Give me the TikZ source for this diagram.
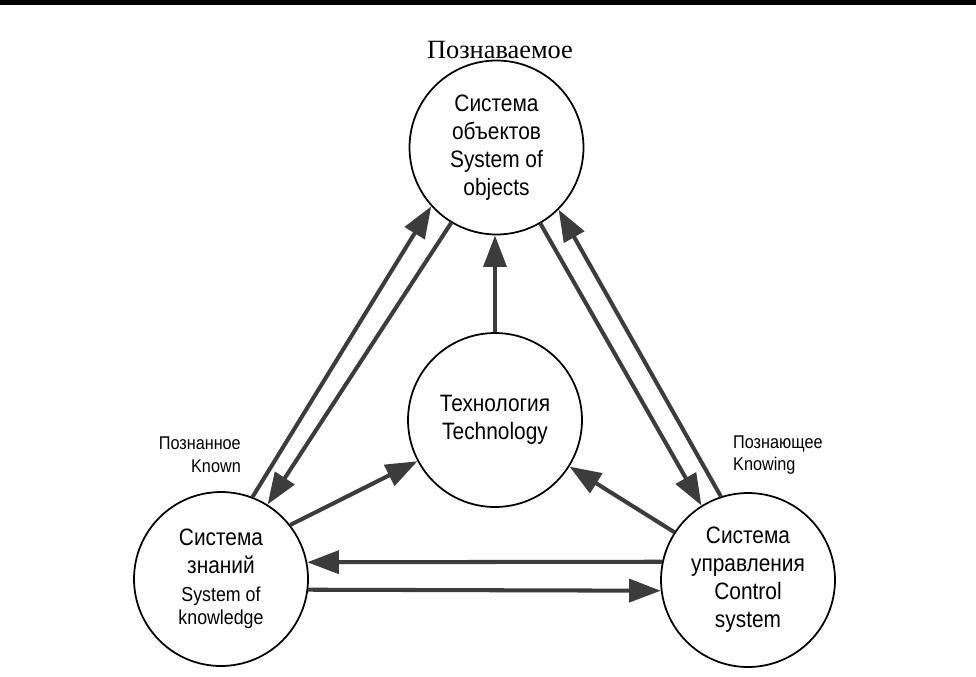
\documentclass[tikz,border=0pt]{standalone}
\usepackage{fontspec}
\setmainfont{Liberation Sans}[FakeStretch=0.88]
\newfontfamily\rmru{Liberation Serif}
\usetikzlibrary{arrows.meta}
\definecolor{arrowgray}{HTML}{3C3C3C}
\newcommand{\smallen}{\fontsize{11.5}{13.5}\selectfont}

\begin{document}
\begin{tikzpicture}[x=0.02cm, y=-0.02cm,
  sys/.style={circle, draw, line width=1pt, minimum size=3.48cm, inner sep=0pt, align=center, font=\fontsize{13.5}{16}\selectfont},
  flow/.style={arrowgray, line width=2.3pt, -{Triangle[length=18pt, width=13pt]}},
  side/.style={font=\fontsize{10.5}{13}\selectfont}]
\useasboundingbox (0,0) rectangle (976,676);
\fill (0,0) rectangle (976,5);
\node[sys] (obj) at (496.5,147.5) {Система\\объектов\\System of\\objects};
\node[sys] (tech) at (495,420) {Технология\\Technology};
\node[sys] (kn) at (221,579) {Система\\знаний\\\smallen System of\\[-3pt]\smallen knowledge};
\node[sys] (ctl) at (748,580) {Система\\управления\\Control\\system};
\node[font=\rmru\fontsize{15}{17}\selectfont] (knowable) at (500,50) {Познаваемое};
\node[side, anchor=east, align=right] (known) at (247,455) {Познанное\\Known};
\node[side, anchor=west, align=left] (knowing) at (727,455) {Познающее\\Knowing};
\draw[flow] (kn.69) -- (obj.222);
\draw[flow] (obj.239) -- (kn.58);
\draw[flow] (obj.300) -- (ctl.122.6);
\draw[flow] (ctl.108.6) -- (obj.315);
\draw[flow] (tech.north) -- (tech.north |- obj.south);
\draw[flow] (kn.38) -- (tech.208);
\draw[flow] (ctl.147) -- (tech.328);
\draw[flow] (ctl.168) -- (kn.11);
\draw[flow] (kn.-7) -- (ctl.187);
\end{tikzpicture}
\end{document}
